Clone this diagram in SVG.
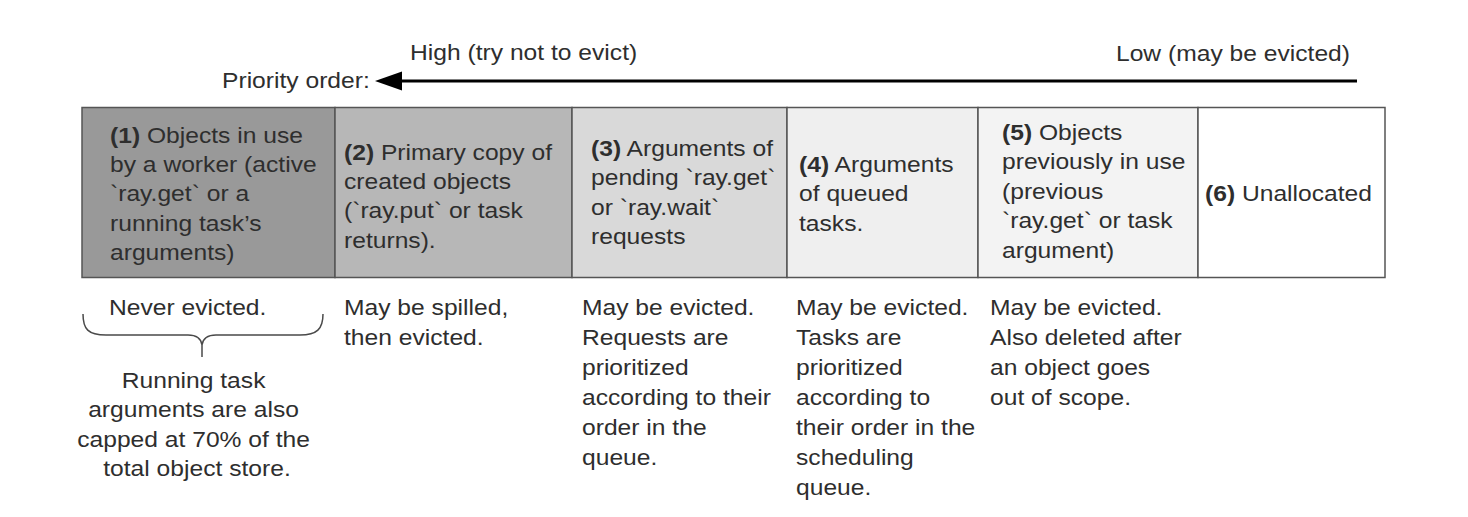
<svg xmlns="http://www.w3.org/2000/svg" width="1468" height="517" viewBox="0 0 1468 517">
  <style>
    .t { font-family: "Liberation Sans", Arial, sans-serif; font-size: 22px; fill: #2e2e2e; }
    .b { font-weight: bold; }
    .cell { stroke: #555; stroke-width: 1.5; }
    .brace { fill: none; stroke: #4a4a4a; stroke-width: 1.5; }
  </style>
  <rect width="1468" height="517" fill="#fff"/>

  <!-- priority arrow and its labels -->
  <g id="priority">
    <text class="t" transform="translate(410 59.5) scale(1.12 1)">High (try not to evict)</text>
    <text class="t" transform="translate(1350 60.5) scale(1.12 1)" text-anchor="end">Low (may be evicted)</text>
    <text class="t" transform="translate(222 87.5) scale(1.12 1)">Priority order:</text>
  </g>
  <g id="connectors">
    <line x1="1357" y1="81" x2="400" y2="81" stroke="#000" stroke-width="3"/>
    <path d="M375,81 L402,71.5 L402,90.5 z" fill="#000"/>
  </g>

  <!-- object store slots, highest priority first -->
  <g id="slot1">
    <rect class="cell" x="82" y="107.5" width="253" height="170" fill="#999999"/>
    <text class="t" transform="translate(110 142.5) scale(1.12 1)">
      <tspan x="0" dy="0"><tspan class="b">(1)</tspan> Objects in use</tspan>
      <tspan x="0" dy="29.5">by a worker (active</tspan>
      <tspan x="0" dy="29.5">`ray.get` or a</tspan>
      <tspan x="0" dy="29.5">running task’s</tspan>
      <tspan x="0" dy="29.5">arguments)</tspan>
    </text>
  </g>
  <g id="slot2">
    <rect class="cell" x="335" y="107.5" width="237" height="170" fill="#b7b7b7"/>
    <text class="t" transform="translate(344 159.5) scale(1.12 1)">
      <tspan x="0" dy="0"><tspan class="b">(2)</tspan> Primary copy of</tspan>
      <tspan x="0" dy="29.5">created objects</tspan>
      <tspan x="0" dy="29.5">(`ray.put` or task</tspan>
      <tspan x="0" dy="29.5">returns).</tspan>
    </text>
  </g>
  <g id="slot3">
    <rect class="cell" x="572" y="107.5" width="215" height="170" fill="#d9d9d9"/>
    <text class="t" transform="translate(591 156) scale(1.12 1)">
      <tspan x="0" dy="0"><tspan class="b">(3)</tspan> Arguments of</tspan>
      <tspan x="0" dy="29.5">pending `ray.get`</tspan>
      <tspan x="0" dy="29.5">or `ray.wait`</tspan>
      <tspan x="0" dy="29.5">requests</tspan>
    </text>
  </g>
  <g id="slot4">
    <rect class="cell" x="787" y="107.5" width="191" height="170" fill="#efefef"/>
    <text class="t" transform="translate(799 172) scale(1.12 1)">
      <tspan x="0" dy="0"><tspan class="b">(4)</tspan> Arguments</tspan>
      <tspan x="0" dy="29.5">of queued</tspan>
      <tspan x="0" dy="29.5">tasks.</tspan>
    </text>
  </g>
  <g id="slot5">
    <rect class="cell" x="978" y="107.5" width="220" height="170" fill="#f3f3f3"/>
    <text class="t" transform="translate(1002 140) scale(1.12 1)">
      <tspan x="0" dy="0"><tspan class="b">(5)</tspan> Objects</tspan>
      <tspan x="0" dy="29.5">previously in use</tspan>
      <tspan x="0" dy="29.5">(previous</tspan>
      <tspan x="0" dy="29.5">`ray.get` or task</tspan>
      <tspan x="0" dy="29.5">argument)</tspan>
    </text>
  </g>
  <g id="slot6">
    <rect class="cell" x="1198" y="107.5" width="187" height="170" fill="#ffffff"/>
    <text class="t" transform="translate(1205 201) scale(1.12 1)"><tspan class="b">(6)</tspan> Unallocated</text>
  </g>

  <!-- eviction notes under each slot -->
  <g id="note1">
    <text class="t" transform="translate(109 315) scale(1.12 1)">Never evicted.</text>
    <path class="brace" d="M83,314 C83,329 88,335 106,335 L188,335 C196,335 201,338 202,345 L202,357 M202,345 C203,338 208,335 216,335 L300,335 C317,335 323,329 323,314"/>
    <text class="t" text-anchor="middle" transform="translate(197 388) scale(1.12 1)">
      <tspan x="0" dy="0">Running task</tspan>
      <tspan x="0" dy="29.5">arguments are also</tspan>
      <tspan x="0" dy="29.5">capped at 70% of the</tspan>
      <tspan x="0" dy="29.5">total object store.</tspan>
    </text>
  </g>
  <g id="note2">
    <text class="t" transform="translate(344 315) scale(1.12 1)">
      <tspan x="0" dy="0">May be spilled,</tspan>
      <tspan x="0" dy="30">then evicted.</tspan>
    </text>
  </g>
  <g id="note3">
    <text class="t" transform="translate(582 315) scale(1.12 1)">
      <tspan x="0" dy="0">May be evicted.</tspan>
      <tspan x="0" dy="30">Requests are</tspan>
      <tspan x="0" dy="30">prioritized</tspan>
      <tspan x="0" dy="30">according to their</tspan>
      <tspan x="0" dy="30">order in the</tspan>
      <tspan x="0" dy="30">queue.</tspan>
    </text>
  </g>
  <g id="note4">
    <text class="t" transform="translate(796 315) scale(1.12 1)">
      <tspan x="0" dy="0">May be evicted.</tspan>
      <tspan x="0" dy="30">Tasks are</tspan>
      <tspan x="0" dy="30">prioritized</tspan>
      <tspan x="0" dy="30">according to</tspan>
      <tspan x="0" dy="30">their order in the</tspan>
      <tspan x="0" dy="30">scheduling</tspan>
      <tspan x="0" dy="30">queue.</tspan>
    </text>
  </g>
  <g id="note5">
    <text class="t" transform="translate(990 315) scale(1.12 1)">
      <tspan x="0" dy="0">May be evicted.</tspan>
      <tspan x="0" dy="30">Also deleted after</tspan>
      <tspan x="0" dy="30">an object goes</tspan>
      <tspan x="0" dy="30">out of scope.</tspan>
    </text>
  </g>
</svg>
